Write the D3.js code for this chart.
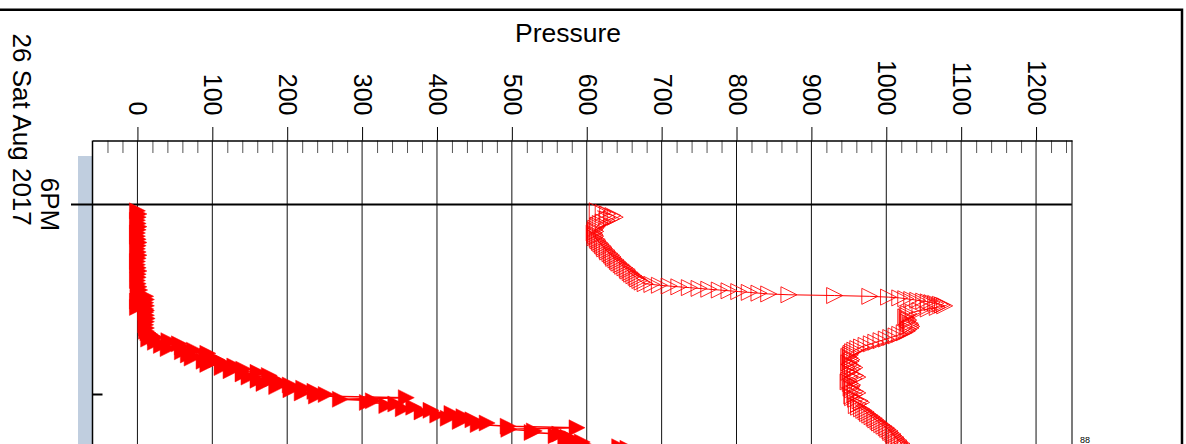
<!DOCTYPE html>
<html><head><meta charset="utf-8">
<script src="https://cdn.jsdelivr.net/npm/d3@7"></script>
<style>html,body{margin:0;padding:0;background:#fff;overflow:hidden}svg{display:block;font-family:"Liberation Sans",Arial,sans-serif}</style>
</head><body>
<svg id="chart" width="1186" height="444"></svg>
<script>
// ---- data ----
const pressureTicks = [0,100,200,300,400,500,600,700,800,900,1000,1100,1200];
const axisTitle = "Pressure";
const startTime = new Date(2017, 7, 26, 18, 0, 0);   // 6PM tick
const hourTick = new Date(2017, 7, 26, 19, 0, 0);    // minor tick
const cornerNote = "88";
// [minutes after 6PM, pressure]
const filledSeries = [
[2,0],[3,2],[4,1],[5,0],[6,1],[7,2],[8,1],[9,0],[10,0],[11,1],[12,2],[13,1],[14,0],[15,1],[16,2],[17,1],[18,0],[19,0],[20,1],[21,2],[22,1],[23,1],[24,0],[25,1],[26,2],[27,3],[28,1],
[28.5,2],[29,11],[29.5,1],[30,12],[30.5,0],[31,11],[31.5,1],[32,12],[32.5,0],[33,11],[33.5,12],[34,11],[35,12],[36,13],[37,12],[38,11],[39,12],[40,12],[40.5,14],[41,17],[41.5,19],
[42,24],[42.5,15],[43,42],[43.5,24],[44,56],[44.5,32],[45,60],[45.5,41],[46,76],[46.5,60],
[47,94],[47.5,68],[48,93],[48.5,73],[49,106],[49.5,89],[50,114],[50.5,94],[51,130],[51.5,113],
[52,142],[52.5,125],[53,161],[53.5,141],[54,176],[54.5,149],[55,181],[55.5,161],[56,190],[56.5,169],
[57,204],[57.5,186],[58,222],[58.5,205],[59,237],[59.5,220],[60,252],[60.5,239],[61,359],[61.5,271],
[62,315],[62.5,307],[63,345],[63.5,333],[64,369],[64.5,355],[65,392],[65.5,380],[66,420],[66.5,401],
[67,436],[67.5,415],[68,448],[68.5,431],[69,467],[69.5,455],[70,495],[70.5,587],[71,496],[71.5,530],
[72,527],[72.5,564],[73,559],[73.5,575],[74,580],[74.5,572],[75,594],[75.5,586],[76,598],[76.5,644],[77,655]
];
const hollowSeries = [
[2,614],[2.5,622],[3,628],[3.5,635],[4,638],[4.5,633],[5,627],[5.5,622],[6,618],[6.5,615],[7,614],[7.5,612],[8,611],[8.5,612],[9,610],[9.5,611],[10,612],[10.5,611],[11,614],[11.5,615],[12,617],[12.5,619],[13,621],[13.5,623],[14,624],[14.5,627],[15,628],[15.5,631],[16,633],[16.5,635],[17,636],[17.5,639],[18,641],[18.5,643],[19,646],[19.5,648],[20,651],[20.5,654],[21,655],[21.5,658],[22,660],[22.5,663],[23,666],[23.5,668],[24,671],[24.5,674],
[25,678],[25.25,687],[25.5,697],[25.75,710],[26,723],[26.25,737],[26.5,750],[26.75,763],[27,777],[27.25,790],[27.5,803],[27.75,817],[28,830],[28.25,843],[28.5,870],[28.75,931],[29,978],[29.25,1003],[29.5,1018],[29.75,1026],[30,1034],[30.25,1042],[30.5,1050],[30.75,1056],[31,1061],[31.25,1066],[31.5,1072],[31.75,1075],[32,1078],[32.5,1068],[33,1056],[33.5,1045],[34,1036],[34.5,1030],[35,1028],[35.5,1026],[36,1028],[36.5,1030],[37,1029],[37.5,1032],[38,1033],[38.5,1034],[39,1033],[39.5,1030],[40,1028],[40.5,1024],[41,1018],[41.5,1013],[42,1006],[42.5,1000],[43,993],[43.5,986],[44,980],[44.5,973],[45,967],[45.5,962],[46,958],[46.5,955],[47,953],[47.5,952],[48,950],[48.5,952],[49,954],[49.5,953],[50,950],[50.5,952],[51,955],[51.5,958],[52,955],[52.5,952],[53,950],[53.5,954],[54,959],[54.5,962],[55,957],[55.5,950],[56,949],[56.5,952],[57,955],[57.5,954],[58,953],[58.5,955],[59,959],[59.5,962],[60,958],[60.5,954],[61,955],[61.5,959],[62,965],[62.5,967],[63,963],[63.5,960],[64,963],[64.5,967],[65,970],[65.5,973],[66,975],[66.5,978],[67,981],[67.5,984],[68,986],[68.5,989],[69,991],[69.5,994],[70,997],[70.5,1000],[71,1002],[71.5,1005],[72,1006],[72.5,1009],[73,1010],[73.5,1013],[74,1014],[74.5,1017],[75,1018],[75.5,1021],[76,1022],[76.5,1025],[77,1026]
];

// ---- layout ----
const W = 1186, H = 444;
const plotL = 92.5, plotR = 1072, plotT = 140.5, plotB = 452;
const svg = d3.select("#chart");
svg.append("rect").attr("width", W).attr("height", H).attr("fill", "#fff");

const x = d3.scaleLinear().domain([-60, 1248]).range([plotL, plotR]);
const y = d3.scaleTime().domain([startTime, hourTick]).range([204.5, 394.5]);
const toDate = m => new Date(startTime.getTime() + m * 60000);

// outer frame (top and right)
svg.append("path").attr("d", `M0,9.7H1182V${H}`).attr("fill", "none").attr("stroke", "#000").attr("stroke-width", 2.5);

// blue side band
svg.append("rect").attr("x", 78).attr("y", 156).attr("width", plotL - 78).attr("height", H)
  .attr("fill", "#c0cedf");

// vertical gridlines
svg.append("g").selectAll("line").data(pressureTicks).join("line")
  .attr("x1", d => x(d)).attr("x2", d => x(d)).attr("y1", plotT).attr("y2", plotB)
  .attr("stroke", "#111").attr("stroke-width", 1);

// 6PM gridline + outward tick
svg.append("line").attr("x1", 71).attr("x2", plotR).attr("y1", y(startTime)).attr("y2", y(startTime))
  .attr("stroke", "#000").attr("stroke-width", 2);
// minor time tick (inward)
svg.append("line").attr("x1", plotL).attr("x2", plotL + 10).attr("y1", y(hourTick)).attr("y2", y(hourTick))
  .attr("stroke", "#000").attr("stroke-width", 2);

// series
const rightTriangle = { draw(ctx, size) { const h = Math.sqrt(size) / 2; ctx.moveTo(-h, -h); ctx.lineTo(h, 0); ctx.lineTo(-h, h); ctx.closePath(); } };
const sym = d3.symbol().type(rightTriangle).size(256);
const line = d3.line().x(d => x(d[1])).y(d => y(toDate(d[0])));

svg.append("path").datum(hollowSeries).attr("d", line).attr("fill", "none").attr("stroke", "#ff0000").attr("stroke-width", 1);
svg.append("g").selectAll("path").data(hollowSeries).join("path")
  .attr("transform", d => `translate(${x(d[1])},${y(toDate(d[0]))})`)
  .attr("d", sym).attr("fill", "none").attr("stroke", "#ff0000").attr("stroke-width", 1).attr("stroke-opacity", 0.85);

svg.append("path").datum(filledSeries).attr("d", line).attr("fill", "none").attr("stroke", "#ff0000").attr("stroke-width", 1.5);
svg.append("g").selectAll("path").data(filledSeries).join("path")
  .attr("transform", d => `translate(${x(d[1])},${y(toDate(d[0]))})`)
  .attr("d", sym).attr("fill", "#ff0000").attr("stroke", "#ff0000").attr("stroke-width", 0.5);

// axis frame lines
svg.append("line").attr("x1", plotL).attr("x2", plotL).attr("y1", plotT).attr("y2", plotB).attr("stroke", "#000").attr("stroke-width", 1.5);
svg.append("line").attr("x1", plotR).attr("x2", plotR).attr("y1", plotT).attr("y2", plotB).attr("stroke", "#222").attr("stroke-width", 1.2);

// minor pressure ticks (downward)
const minorTicks = d3.range(-40, 1260, 20).filter(v => v % 100 !== 0);
const minorAxis = svg.append("g").attr("transform", `translate(0,${plotT})`)
  .call(d3.axisBottom(x).tickValues(minorTicks).tickSize(12.5).tickFormat(""));
minorAxis.select(".domain").remove();
minorAxis.selectAll("line").attr("stroke", "#555");

// major pressure axis (top)
const topAxis = svg.append("g").attr("transform", `translate(0,${plotT})`)
  .call(d3.axisTop(x).tickValues(pressureTicks).tickSize(13.5).tickSizeOuter(0).tickFormat(d3.format("d")));
topAxis.select(".domain").attr("stroke-width", 1.5);
topAxis.selectAll(".tick line").attr("stroke", "#000");
topAxis.selectAll(".tick text")
  .attr("x", 0).attr("y", 0).attr("dy", null)
  .attr("transform", "translate(-8.5,-25) rotate(90)")
  .attr("text-anchor", "end")
  .attr("fill", "#000")
  .style("font-size", "25px").style("font-family", '"Liberation Sans", Arial, sans-serif');

// title
svg.append("text").attr("x", 568).attr("y", 41.5).attr("text-anchor", "middle")
  .style("font-size", "26.5px").attr("fill", "#000").text(axisTitle);

// time labels
svg.append("text").attr("transform", `translate(41,${y(startTime)}) rotate(90)`).attr("text-anchor", "middle")
  .style("font-size", "26px").attr("fill", "#000").text(d3.timeFormat("%-I%p")(startTime));
svg.append("text").attr("transform", "translate(12.5,33.5) rotate(90)").attr("text-anchor", "start")
  .style("font-size", "26px").attr("fill", "#000").text(d3.timeFormat("%d %a %b %Y")(startTime));

// small note at bottom right
svg.append("text").attr("x", 1080).attr("y", 443).style("font-size", "9px").attr("fill", "#000").text(cornerNote);
</script>
</body></html>
